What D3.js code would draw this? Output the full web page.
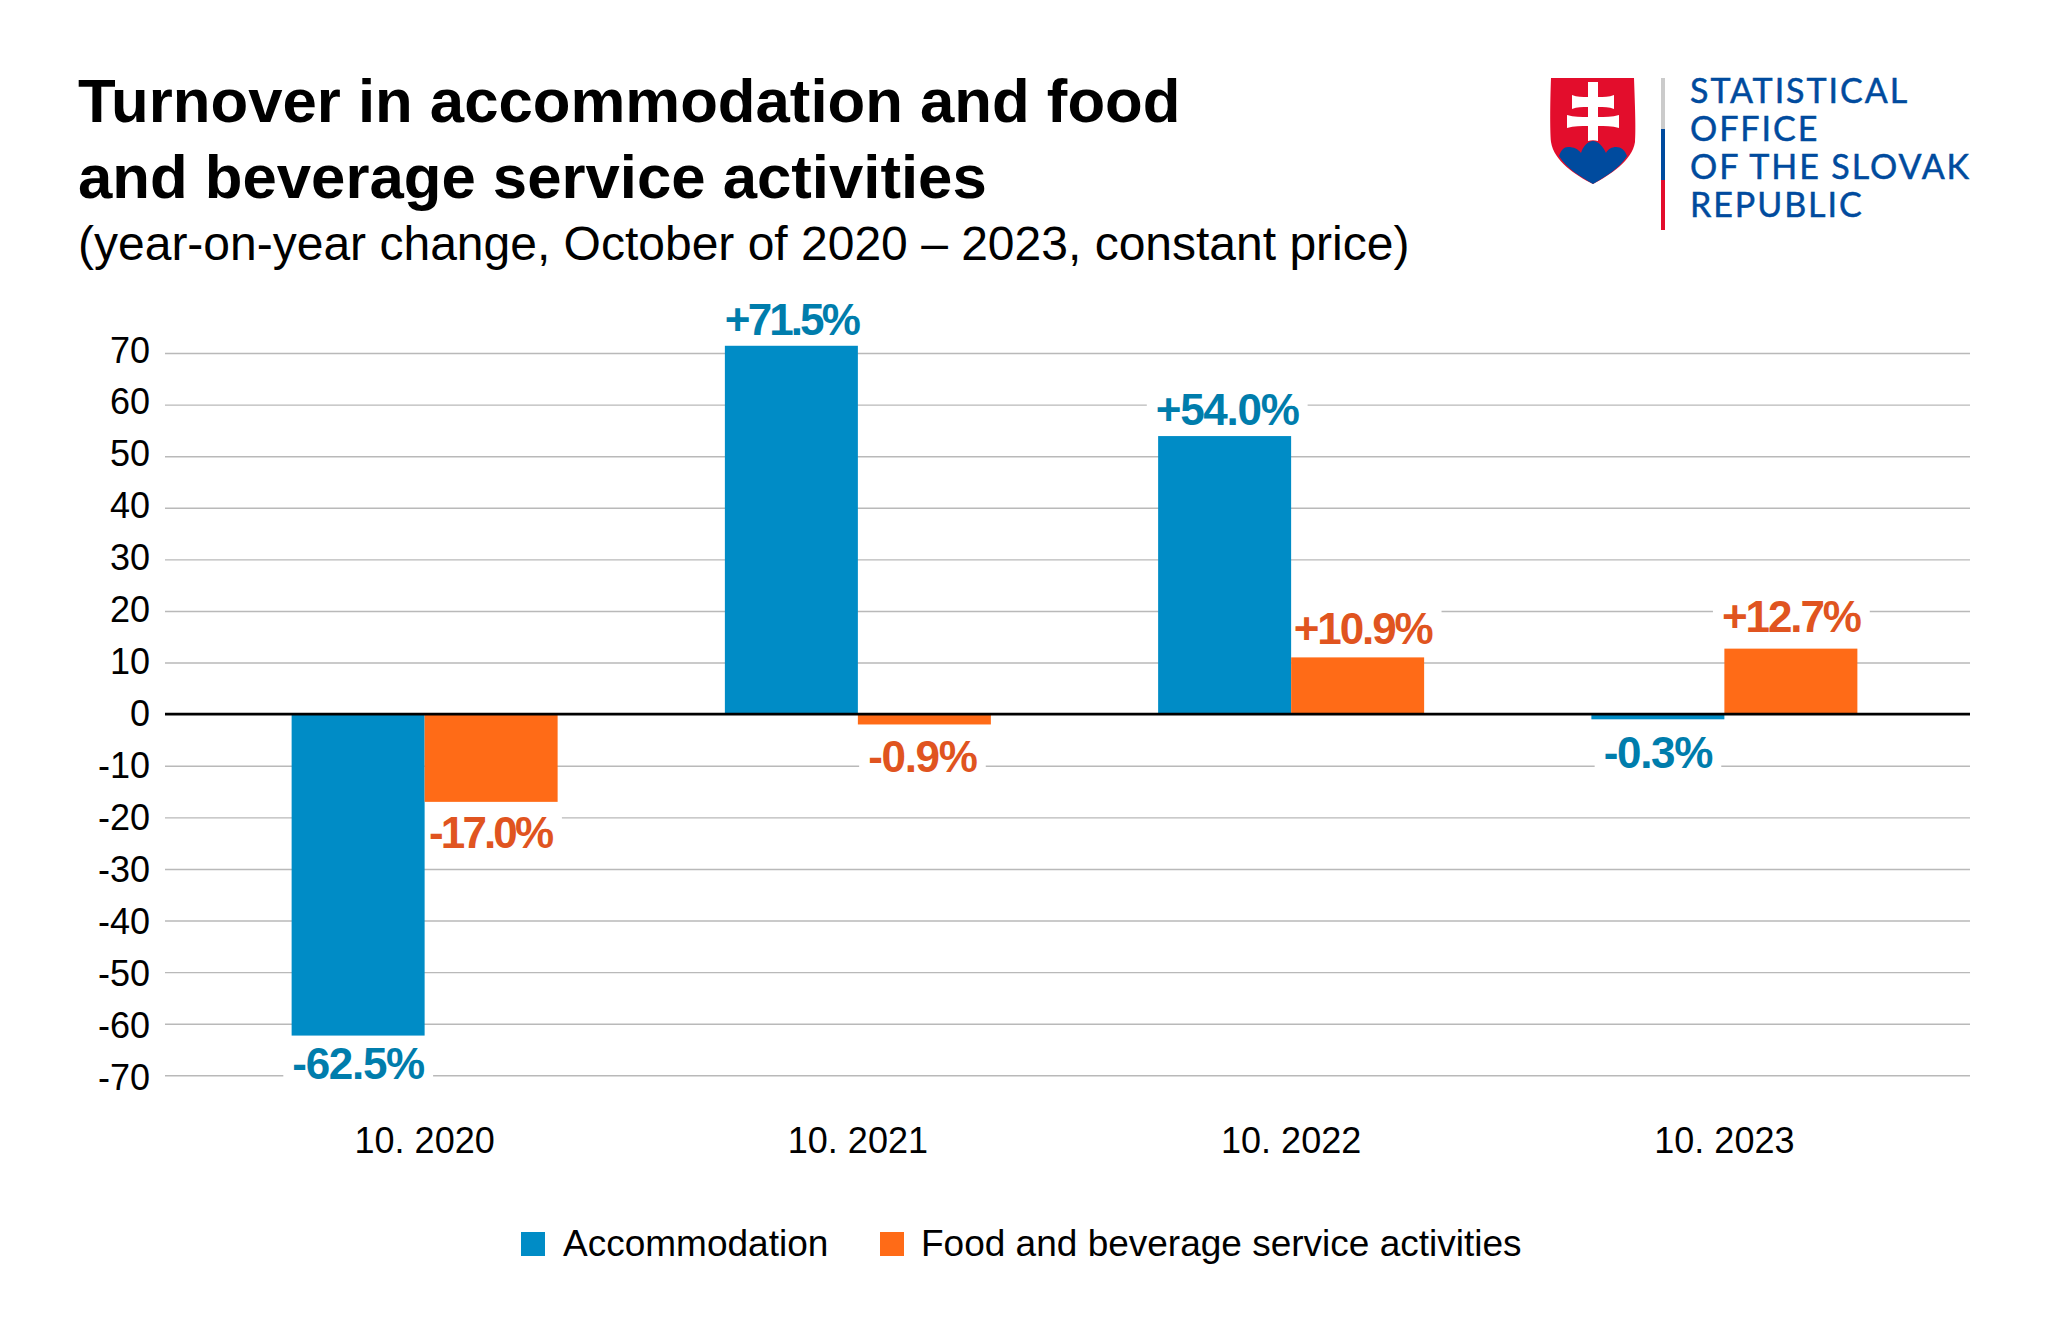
<!DOCTYPE html>
<html><head><meta charset="utf-8">
<script src="https://cdnjs.cloudflare.com/ajax/libs/d3/7.8.5/d3.min.js"></script>
<style>html,body{margin:0;background:#fff}svg{display:block}text{font-family:"Liberation Sans",Arial,sans-serif}</style>
</head><body><svg id="c" width="2048" height="1334"></svg>
<script>
const categories = ["10. 2020","10. 2021","10. 2022","10. 2023"];
const seriesNames = ["Accommodation","Food and beverage service activities"];
const accommodation = [-62.3, 71.4, 53.9, -1.0];
const food = [-17.0, -2.0, 11.0, 12.7];
const accommodationLabels = ["-62.5%","+71.5%","+54.0%","-0.3%"];
const foodLabels = ["-17.0%","-0.9%","+10.9%","+12.7%"];
const yTicks = [70,60,50,40,30,20,10,0,-10,-20,-30,-40,-50,-60,-70];
const titleLines = ["Turnover in accommodation and food","and beverage service activities"];
const subtitle = "(year-on-year change, October of 2020 \u2013 2023, constant price)";
const logoLines = ["STATISTICAL","OFFICE","OF THE SLOVAK","REPUBLIC"];
const colors = ["#008cc6","#ff6b17"];
const labelColors = ["#007dac","#e05420"];

const svg = d3.select("#c");
const y = d3.scaleLinear().domain([70,-70]).range([353,1075.3]);
const yLabel = d3.scaleLinear().domain([70,-70]).range([350.5,1078]);
const x = d3.scaleBand().domain(categories).range([208,1941]).padding(0);
const gridL = 165, gridR = 1970, barW = 133;

// label placement relative to the end of its bar
const labelNudge = {
  "-62.5%":[0,43.3], "+71.5%":[0,-11], "+54.0%":[2.5,-11], "-0.3%":[0,48.3],
  "-17.0%":[-1,45.7], "-0.9%":[-2,47.6], "+10.9%":[5,-13], "+12.7%":[0,-17]
};
const labelSpacing = s => /17|71/.test(s) ? -2.9 : /1/.test(s) ? -2.1 : -1.3;

// title
svg.selectAll(".t").data(titleLines).join("text").attr("x",78).attr("y",(d,i)=>122+i*75.5)
  .attr("font-size",61.7).attr("font-weight",700).attr("fill","#000").text(d=>d);
svg.append("text").attr("x",78).attr("y",260).attr("font-size",48).attr("fill","#000").text(subtitle);

// grid
svg.append("g").attr("transform",`translate(${gridL},0)`)
  .call(d3.axisLeft(y).tickValues(yTicks).tickSize(-(gridR-gridL)).tickPadding(15).tickFormat(d=>String(d)))
  .call(g=>g.select(".domain").remove())
  .call(g=>g.selectAll(".tick line").attr("stroke",d=>d===0?"none":"#b9b9b9").attr("stroke-width",1.4))
  .call(g=>g.selectAll(".tick text").attr("font-size",36).attr("fill","#000").attr("font-family","Liberation Sans")
    .attr("y",d=>yLabel(d)-y(d)));

// label masks + bars + labels
const series = [accommodation,food];
const labels = [accommodationLabels,foodLabels];
const rows = [];
categories.forEach((c,i)=>series.forEach((s,k)=>rows.push({c,k,v:s[i],l:labels[k][i]})));
const barX = d=>x(d.c)+x.bandwidth()/2+(d.k===0?-barW:0);
const lab = svg.append("g");
rows.forEach(d=>{
  const n = labelNudge[d.l];
  const t = lab.append("text").attr("x",barX(d)+barW/2+n[0]).attr("y",y(d.v)+n[1]).attr("text-anchor","middle")
    .attr("font-size",44).attr("font-weight",700).attr("letter-spacing",labelSpacing(d.l)).attr("fill",labelColors[d.k]).text(d.l);
  d.node=t.node();
});
rows.forEach(d=>{
  const b=d.node.getBBox();
  lab.insert("rect","text").attr("x",b.x-9).attr("y",b.y+2).attr("width",b.width+18).attr("height",b.height-4).attr("fill","#fff");
});
svg.append("g").selectAll("rect").data(rows).join("rect")
  .attr("x",barX).attr("width",barW)
  .attr("y",d=>Math.min(y(0),y(d.v))).attr("height",d=>Math.abs(y(d.v)-y(0)))
  .attr("fill",d=>colors[d.k]);
svg.append("line").attr("x1",gridL).attr("x2",gridR).attr("y1",y(0)).attr("y2",y(0)).attr("stroke","#000").attr("stroke-width",2.7);

// category labels
svg.append("g").attr("transform","translate(0,1153)")
  .call(d3.axisBottom(x).tickSize(0).tickPadding(0))
  .call(g=>g.select(".domain").remove())
  .call(g=>g.selectAll(".tick text").attr("font-size",36).attr("fill","#000").attr("font-family","Liberation Sans").attr("dy",0));

// legend
const lg = svg.append("g");
[[521,562],[880,920]].forEach((p,i)=>{
  lg.append("rect").attr("x",p[0]).attr("y",1232).attr("width",24).attr("height",24).attr("fill",colors[i]);
  lg.append("text").attr("x",p[1]+1).attr("y",1256).attr("font-size",37).attr("fill","#000").text(seriesNames[i]);
});

// logo
const logo = svg.append("g");
logo.append("path").attr("d","M1551 78H1634C1635 105 1636 130 1635 142C1632 161 1610 175 1593 184C1575 175 1554 161 1551 142C1550 130 1550 105 1551 78Z").attr("fill","#e30d2c");
logo.append("path").attr("d","M1559 156C1561 150 1564 147 1568 147C1574 147 1578 149 1581 153C1583 146 1588 141 1593 141C1598 141 1603 146 1606 153C1608 149 1612 147 1616 147C1621 147 1625 150 1627 156C1620 168 1605 177 1593 184C1581 177 1566 168 1559 156Z").attr("fill","#004b9e");
logo.append("path").attr("d","M1588 82H1598V97C1604 97 1609 97 1614 95V109C1609 107 1604 107 1598 107V117C1605 117 1612 117 1619 115V128C1612 126 1605 126 1598 126V141C1595 140 1591 140 1588 141V126C1581 126 1574 126 1567 128V115C1574 117 1581 117 1588 117V107C1582 107 1577 107 1572 109V95C1577 97 1582 97 1588 97Z").attr("fill","#fff");
logo.append("rect").attr("x",1661).attr("y",78).attr("width",4).attr("height",51).attr("fill","#cbcbcb");
logo.append("rect").attr("x",1661).attr("y",129).attr("width",4).attr("height",51).attr("fill","#004b9e");
logo.append("rect").attr("x",1661).attr("y",180).attr("width",4).attr("height",50).attr("fill","#e30d2c");
logo.selectAll(".n").data(logoLines).join("text").attr("x",1690).attr("y",(d,i)=>103+i*38)
  .attr("font-size",34).attr("letter-spacing",1.95).attr("fill","#004b9e").attr("stroke","#004b9e").attr("stroke-width",0.5).style("font-family","Lato").text(d=>d);
</script></body></html>
